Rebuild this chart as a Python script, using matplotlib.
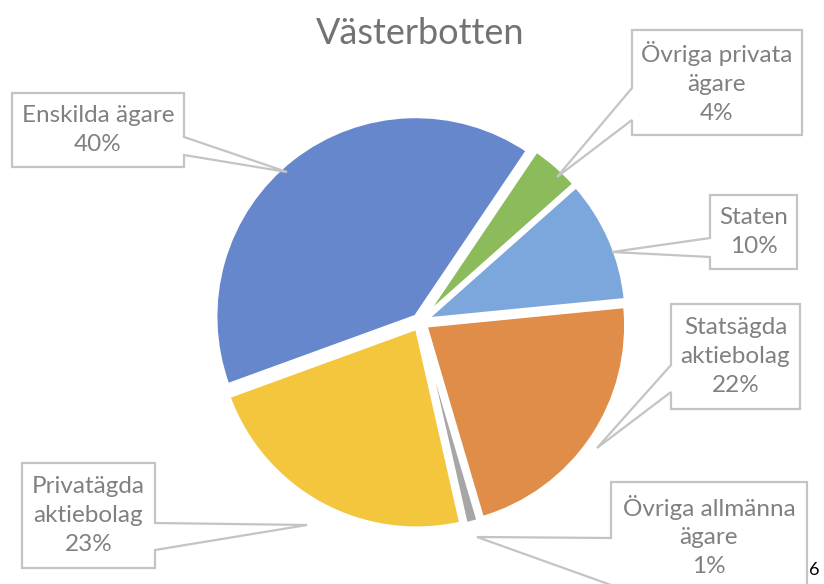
import matplotlib.pyplot as plt
from matplotlib.patches import Polygon

# Data
labels = ['Enskilda ägare', 'Övriga privata\nägare', 'Staten', 'Statsägda\naktiebolag',
          'Övriga allmänna\nägare', 'Privatägda\naktiebolag']
shares = [40, 4, 10, 22, 1, 23]
colors = ['#6787cc', '#8cbb5c', '#7ca7dc', '#e08d49', '#a6a6a6', '#f4c63d']

W, H = 824, 584

# callout layout in pixel coords: box (x0, y0, x1, y1), tail side, tail base y's, tip
callouts = [
    ((12, 93, 184, 167), 'right', (137, 155), (287, 172)),
    ((632, 30, 802, 135), 'left', (88, 120), (557, 177)),
    ((710, 195, 797, 269), 'left', (238, 257), (612, 252)),
    ((671, 304, 800, 409), 'left', (365, 392), (597, 448)),
    ((611, 482, 807, 610), 'left', (538, 585), (477, 537)),
    ((22, 463, 155, 568), 'right', (523, 550), (307, 525)),
]

plt.rcParams['font.family'] = ['Lato', 'DejaVu Sans']

fig = plt.figure(figsize=(W / 100, H / 100), dpi=100)
ax = fig.add_axes([0, 0, 1, 1])


def fy(y):
    return H - y


ax.pie(shares, colors=colors, startangle=200, counterclock=False,
       center=(420, fy(322)), radius=200, explode=[7] * len(shares),
       wedgeprops=dict(linewidth=2.5, edgecolor='white'), frame=True)
ax.set_xlim(0, W)
ax.set_ylim(0, H)
ax.axis('off')

for lab, val, (box, side, (b1, b2), tip) in zip(labels, shares, callouts):
    x0, y0, x1, y1 = box
    if side == 'right':
        pts = [(x0, y0), (x1, y0), (x1, b1), tip, (x1, b2), (x1, y1), (x0, y1)]
    else:
        pts = [(x0, y0), (x1, y0), (x1, y1), (x0, y1), (x0, b2), tip, (x0, b1)]
    pts = [(px, fy(py)) for px, py in pts]
    ax.add_patch(Polygon(pts, closed=True, facecolor='white', edgecolor='#c4c4c4',
                         linewidth=1.6, zorder=3))
    ty = (y0 + y1) / 2 if y1 <= H else (y0 + H) / 2 + 3
    ax.text((x0 + x1) / 2, fy(ty), f'{lab}\n{val}%', ha='center', va='center',
            fontsize=17.5, color='#808080', linespacing=1.45, zorder=4)

ax.text(420, fy(33), 'Västerbotten', ha='center', va='center', fontsize=26, color='#737373')
ax.text(809, fy(570), '6', ha='left', va='center', fontsize=13, color='black')

fig.savefig('out.png', dpi=100)
